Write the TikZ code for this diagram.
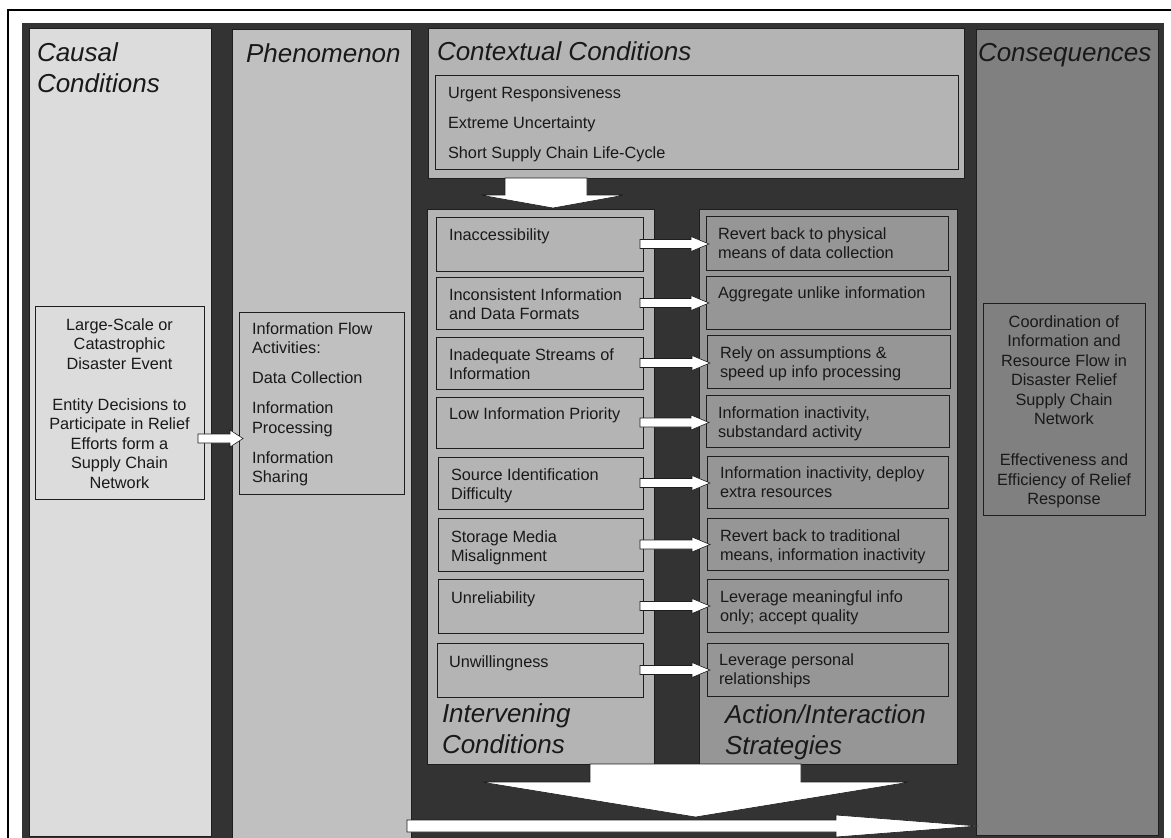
\documentclass[tikz,border=0pt]{standalone}
\usepackage{fontspec}
\setmainfont{Liberation Sans}
\usetikzlibrary{calc}
\definecolor{bgdark}{HTML}{333333}
\definecolor{causalc}{HTML}{DCDCDC}
\definecolor{phenc}{HTML}{C0C0C0}
\definecolor{ctxc}{HTML}{B4B4B4}
\definecolor{actc}{HTML}{969696}
\definecolor{consc}{HTML}{808080}
\definecolor{edgec}{HTML}{1E1E1E}
\newcommand\pbox[6]{\node[panel,fill=#2,minimum width={(#5)-(#3)},minimum height={(#6)-(#4)}] (#1) at (#3,#4) {};}
\newcommand\sarrow[2]{\draw[blockarrow] let \p1=(#1.east), \p2=(#2.west) in
  (\x1-3pt,\y1+4.5pt) -- (\x2-15pt,\y1+4.5pt) -- (\x2-15pt,\y1+7.5pt) -- (\x2+3pt,\y1)
  -- (\x2-15pt,\y1-7.5pt) -- (\x2-15pt,\y1-4.5pt) -- (\x1-3pt,\y1-4.5pt) -- cycle;}
\begin{document}
\begin{tikzpicture}[x=1pt,y=-1pt,
  panel/.style={draw=edgec,line width=0.8pt,inner sep=0pt,outer sep=0pt,anchor=north west},
  body/.style={inner sep=0pt,outer sep=0pt,anchor=north west,align=left,text=black!90,
    font=\fontsize{16.3}{19.5}\selectfont},
  bodyc/.style={body,anchor=north,align=center},
  ctxline/.style={body,font=\fontsize{16.3}{30}\selectfont},
  head/.style={inner sep=0pt,outer sep=0pt,anchor=north west,align=left,text=black!90,
    font=\fontsize{26}{31}\selectfont\itshape},
  blockarrow/.style={fill=white,draw=edgec,line width=0.6pt,line join=miter}
]
\useasboundingbox (0,0) rectangle (1171,838);
% frame and dark background
\fill[bgdark] (22,23) rectangle (1164,838);
\draw[line width=2pt,black] (8,838) -- (8,10) -- (1171,10);
% columns
\pbox{causal}{causalc}{29}{28}{211}{836}
\pbox{phen}{phenc}{232}{29}{411}{842}
\pbox{ctx}{ctxc}{428}{28}{964}{178}
\pbox{ctxin}{ctxc}{435}{75}{958}{169}
\pbox{cons}{consc}{976}{29}{1158}{835}
\pbox{interv}{ctxc}{427}{209}{654}{764}
\pbox{action}{actc}{699}{209}{957}{764}
% headings (strut height 21.7)
\node[head] (hcausal) at (37,39.3) {\strut Causal\\Conditions};
\node[head] (hphen) at (246,40.3) {\strut Phenomenon};
\node[head] (hctx) at (437,38.3) {\strut Contextual Conditions};
\node[head] (hcons) at (978,39.3) {\strut Consequences};
\node[head] (hint) at (442,700.3) {\strut Intervening\\Conditions};
\node[head] (hact) at (725,701.3) {\strut Action/Interaction\\Strategies};
% contextual lines (strut height 21)
\node[ctxline] (ctxtext) at (448,77) {\strut Urgent Responsiveness\\Extreme Uncertainty\\Short Supply Chain Life-Cycle};
% causal / phenomenon / consequences inner boxes (strut height 13.65)
\pbox{cbox}{causalc}{35}{306}{204}{499}
\node[bodyc] (ctext) at (119.5,316.35) {\strut Large-Scale or\\Catastrophic\\Disaster Event\\[21.5pt]Entity Decisions to\\Participate in Relief\\Efforts form a\\Supply Chain\\Network};
\pbox{pbox}{phenc}{239}{312}{404}{494}
\node[body] (ptext) at (252,320.35) {\strut Information Flow\\Activities:\\[10.5pt]Data Collection\\[10.5pt]Information\\Processing\\[10.5pt]Information\\Sharing};
\pbox{qbox}{consc}{983}{303}{1145}{515}
\node[bodyc] (qtext) at (1064,313.35) {\strut Coordination of\\Information and\\Resource Flow in\\Disaster Relief\\Supply Chain\\Network\\[21.5pt]Effectiveness and\\Efficiency of Relief\\Response};
% intervening condition boxes
\pbox{L1}{ctxc}{436}{217}{643}{271}
\pbox{L2}{ctxc}{436}{277}{643}{329}
\pbox{L3}{ctxc}{436}{337}{643}{389}
\pbox{L4}{ctxc}{436}{397}{643}{448}
\pbox{L5}{ctxc}{438}{457}{643}{509}
\pbox{L6}{ctxc}{438}{518}{643}{571}
\pbox{L7}{ctxc}{438}{579}{643}{633}
\pbox{L8}{ctxc}{437}{643}{643}{697}
\node[body] (t1) at (449,226.35) {\strut Inaccessibility};
\node[body] (t2) at (449,286.35) {\strut Inconsistent Information\\and Data Formats};
\node[body] (t3) at (449,346.35) {\strut Inadequate Streams of\\Information};
\node[body] (t4) at (449,405.35) {\strut Low Information Priority};
\node[body] (t5) at (451,466.35) {\strut Source Identification\\Difficulty};
\node[body] (t6) at (451,528.35) {\strut Storage Media\\Misalignment};
\node[body] (t7) at (451,589.35) {\strut Unreliability};
\node[body] (t8) at (449,653.35) {\strut Unwillingness};
% action/interaction boxes
\pbox{R1}{actc}{706}{216}{948}{270}
\pbox{R2}{actc}{706}{276}{950}{329}
\pbox{R3}{actc}{707}{335}{950}{388}
\pbox{R4}{actc}{706}{395}{949}{447}
\pbox{R5}{actc}{707}{456}{948}{508}
\pbox{R6}{actc}{707}{518}{948}{570}
\pbox{R7}{actc}{707}{579}{948}{632}
\pbox{R8}{actc}{707}{643}{948}{696}
\node[body] (s1) at (718,225.35) {\strut Revert back to physical\\means of data collection};
\node[body] (s2) at (718,284.35) {\strut Aggregate unlike information};
\node[body] (s3) at (720,344.35) {\strut Rely on assumptions \&\\speed up info processing};
\node[body] (s4) at (718,404.35) {\strut Information inactivity,\\substandard activity};
\node[body] (s5) at (720,464.35) {\strut Information inactivity, deploy\\extra resources};
\node[body] (s6) at (720,527.35) {\strut Revert back to traditional\\means, information inactivity};
\node[body] (s7) at (720,588.35) {\strut Leverage meaningful info\\only; accept quality};
\node[body] (s8) at (719,651.35) {\strut Leverage personal\\relationships};
% small arrows
\sarrow{L1}{R1}
\sarrow{L2}{R2}
\sarrow{L3}{R3}
\sarrow{L4}{R4}
\sarrow{L5}{R5}
\sarrow{L6}{R6}
\sarrow{L7}{R7}
\sarrow{L8}{R8}
% causal -> phenomenon arrow
\coordinate (crow) at (0,438.5);
\draw[blockarrow] let \p1=(cbox.east |- crow), \p2=(pbox.west |- crow) in
  (\x1-6pt,\y1+4.5pt) -- (\x2-9pt,\y1+4.5pt) -- (\x2-9pt,\y1+8.5pt) -- (\x2+4pt,\y1)
  -- (\x2-9pt,\y1-8.5pt) -- (\x2-9pt,\y1-4.5pt) -- (\x1-6pt,\y1-4.5pt) -- cycle;
% contextual -> intervening arrow
\coordinate (dcol) at (550,0);
\draw[blockarrow] let \p1=(ctx.south -| dcol), \p2=(interv.north -| dcol) in
  (\x1-45pt,\y1) -- (\x1+37pt,\y1) -- (\x1+37pt,\y2+14pt) -- (\x1+75pt,\y2+14pt) -- (\x1+3pt,\y2+1pt)
  -- (\x1-70pt,\y2+14pt) -- (\x1-45pt,\y2+14pt) -- cycle;
% big down arrow
\coordinate (bcol) at (695.5,0);
\coordinate (brow) at (0,817);
\draw[blockarrow] let \p1=(interv.south -| bcol), \p2=(brow -| bcol) in
  (\x1-105.5pt,\y1) -- (\x1+105.5pt,\y1) -- (\x1+105.5pt,\y2+35pt) -- (\x1+214.5pt,\y2+35pt) -- (\x2,\y2)
  -- (\x1-214.5pt,\y2+35pt) -- (\x1-105.5pt,\y2+35pt) -- cycle;
% bottom horizontal arrow to consequences
\coordinate (hrow) at (0,826);
\coordinate (hstart) at (407,826);
\draw[blockarrow] let \p1=(hstart), \p2=(cons.west |- hrow) in
  (\x1,\y1+6pt) -- (\x2-140pt,\y1+6pt) -- (\x2-140pt,\y1+11pt) -- (\x2+2pt,\y1)
  -- (\x2-140pt,\y1-11pt) -- (\x2-140pt,\y1-6pt) -- (\x1,\y1-6pt) -- cycle;
\end{tikzpicture}
\end{document}
